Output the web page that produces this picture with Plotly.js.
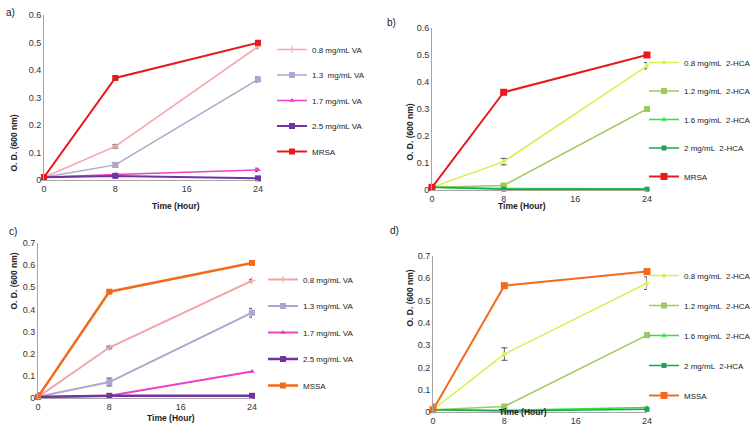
<!DOCTYPE html>
<html>
<head>
<meta charset="utf-8">
<script src="https://cdn.plot.ly/plotly-3.0.1.min.js"></script>
<style>html,body{margin:0;padding:0;background:#fff;overflow:hidden;}#chart{width:750px;height:430px;}</style>
</head>
<body>
<div id="chart"></div>
<script>
// ---- data ----
const hours = [0, 8, 24];
const xTickVals = [0, 8, 16, 24];

// panel a (MRSA, VA)
const aNames = ["0.8 mg/mL VA", "1.3  mg/mL VA", "1.7 mg/mL VA", "2.5 mg/mL VA", "MRSA"];
const aVA08 = [0.01, 0.122, 0.485];
const aVA13 = [0.01, 0.055, 0.366];
const aVA17 = [0.01, 0.020, 0.037];
const aVA25 = [0.01, 0.015, 0.006];
const aMRSA = [0.01, 0.371, 0.499];
const aErr08 = [0, 0.006, 0.006];
const aErr13 = [0, 0.008, 0.010];
const aErr17 = [0, 0.003, 0.006];
const aErr25 = [0, 0.003, 0.003];
const aErrMRSA = [0, 0.004, 0.008];

// panel b (MRSA, 2-HCA)
const bNames = ["0.8 mg/mL  2-HCA", "1.2 mg/mL  2-HCA", "1.6 mg/mL  2-HCA", "2 mg/mL  2-HCA", "MRSA"];
const bHCA08 = [0.01, 0.105, 0.460];
const bHCA12 = [0.01, 0.017, 0.300];
const bHCA16 = [0.01, 0.006, 0.005];
const bHCA2 = [0.01, 0.003, 0.003];
const bMRSA = [0.01, 0.362, 0.500];
const bErr08 = [0, 0.012, 0.012];
const bErr12 = [0, 0.003, 0.004];

// panel c (MSSA, VA)
const cNames = ["0.8 mg/mL VA", "1.3 mg/mL VA", "1.7 mg/mL VA", "2.5 mg/mL VA", "MSSA"];
const cVA08 = [0.005, 0.228, 0.530];
const cVA13 = [0.005, 0.072, 0.385];
const cVA17 = [0.005, 0.010, 0.120];
const cVA25 = [0.005, 0.010, 0.010];
const cMSSA = [0.005, 0.480, 0.610];
const cErr08 = [0, 0.006, 0.006];
const cErr13 = [0, 0.018, 0.020];
const cErrMSSA = [0.018, 0.004, 0.004];

// panel d (MSSA, 2-HCA)
const dNames = ["0.8 mg/mL  2-HCA", "1.2 mg/mL  2-HCA", "1.6 mg/mL  2-HCA", "2 mg/mL  2-HCA", "MSSA"];
const dHCA08 = [0.01, 0.260, 0.578];
const dHCA12 = [0.01, 0.025, 0.345];
const dHCA16 = [0.01, 0.008, 0.020];
const dHCA2 = [0.01, 0.004, 0.012];
const dMSSA = [0.01, 0.567, 0.630];
const dErr08 = [0, 0.028, 0.028];
const dErr12 = [0, 0.006, 0.006];
const dErrMSSA = [0.025, 0.006, 0.008];

// ---- styles ----
const C = {
  va08: "#f5a3a6", va13: "#b2a4cf", va17: "#ee40c8", va25: "#7232a0",
  mrsa: "#e8181c", mssa: "#f26a1c",
  h08: "#d6f04c", h12: "#9ccb5b", h16: "#2fe42f", h2: "#1fa35a"
};

function tr(y, name, color, sym, size, width, err, axis, legend) {
  const t = {
    x: hours, y: y, name: name, type: "scatter", mode: "lines+markers",
    line: {color: color, width: width},
    marker: {color: color, symbol: sym, size: size},
    xaxis: "x" + axis, yaxis: "y" + axis, legend: legend,
    legendgroup: name + axis, cliponaxis: false
  };
  if (err) t.error_y = {type: "data", array: err, visible: true, color: "#555", thickness: 1, width: 3};
  return t;
}

const data = [
  tr(aVA08, aNames[0], C.va08, "cross-thin-open", 5, 1.5, aErr08, "", "legend"),
  tr(aVA13, aNames[1], C.va13, "square", 6, 1.5, aErr13, "", "legend"),
  tr(aVA17, aNames[2], C.va17, "triangle-up", 5, 1.5, aErr17, "", "legend"),
  tr(aVA25, aNames[3], C.va25, "square", 6, 2, aErr25, "", "legend"),
  tr(aMRSA, aNames[4], C.mrsa, "square", 6, 2, aErrMRSA, "", "legend"),

  tr(bHCA08, bNames[0], C.h08, "diamond", 4, 1.5, bErr08, "2", "legend2"),
  tr(bHCA12, bNames[1], C.h12, "square", 6, 1.5, bErr12, "2", "legend2"),
  tr(bHCA16, bNames[2], C.h16, "triangle-up", 5, 1.5, null, "2", "legend2"),
  tr(bHCA2, bNames[3], C.h2, "square", 5, 1.5, null, "2", "legend2"),
  tr(bMRSA, bNames[4], C.mrsa, "square", 7, 2, null, "2", "legend2"),

  tr(cVA08, cNames[0], C.va08, "cross-thin-open", 5, 2, cErr08, "3", "legend3"),
  tr(cVA13, cNames[1], C.va13, "square", 6, 2, cErr13, "3", "legend3"),
  tr(cVA17, cNames[2], C.va17, "triangle-up", 5, 2, null, "3", "legend3"),
  tr(cVA25, cNames[3], C.va25, "square", 6, 2.5, null, "3", "legend3"),
  tr(cMSSA, cNames[4], C.mssa, "square", 6, 2.5, cErrMSSA, "3", "legend3"),

  tr(dHCA08, dNames[0], C.h08, "diamond", 4, 1.5, dErr08, "4", "legend4"),
  tr(dHCA12, dNames[1], C.h12, "square", 6, 1.5, dErr12, "4", "legend4"),
  tr(dHCA16, dNames[2], C.h16, "triangle-up", 5, 1.5, null, "4", "legend4"),
  tr(dHCA2, dNames[3], C.h2, "square", 5, 1.5, null, "4", "legend4"),
  tr(dMSSA, dNames[4], C.mssa, "square", 7, 2, dErrMSSA, "4", "legend4")
];

const FONT = "Liberation Sans, Arial, sans-serif";
function px(v) { return v / 750; }
function py(v) { return (430 - v) / 430; }

function xax(x0, x1, anchor) {
  return {domain: [px(x0), px(x1)], range: [0, 24], tickvals: xTickVals, showgrid: false,
    zeroline: false, showline: true, linecolor: "#a6a6a6", linewidth: 1, ticks: "",
    tickfont: {size: 9, color: "#333"}, anchor: anchor, fixedrange: true, automargin: false};
}
function yax(y0, y1, top, anchor) {
  return {domain: [py(y0), py(y1)], range: [0, top], dtick: 0.1, showgrid: false,
    zeroline: false, showline: true, linecolor: "#a6a6a6", linewidth: 1, ticks: "",
    tickfont: {size: 9, color: "#333"}, anchor: anchor, fixedrange: true, automargin: false};
}
function leg(xp, ytop, gap) {
  return {x: px(xp), y: py(ytop), xanchor: "left", yanchor: "top", xref: "paper", yref: "paper",
    font: {size: 8, color: "#222", family: FONT}, tracegroupgap: gap, bgcolor: "rgba(0,0,0,0)",
    itemwidth: 30};
}
function ann(x, y, text, opts) {
  return Object.assign({x: px(x), y: py(y), xref: "paper", yref: "paper", text: text,
    showarrow: false, font: {size: 9, color: "#222", family: FONT}}, opts || {});
}
const tf = {size: 8.5, color: "#222", family: FONT};
const lf = {size: 10, color: "#222", family: FONT};

const layout = {
  width: 750, height: 430, margin: {l: 0, r: 0, t: 0, b: 0, autoexpand: false},
  paper_bgcolor: "#fff", plot_bgcolor: "#fff",
  font: {family: FONT, color: "#333"},
  xaxis: xax(44, 258, "y"), yaxis: yax(180, 15, 0.6, "x"),
  xaxis2: xax(432, 647, "y2"), yaxis2: yax(190, 28, 0.6, "x2"),
  xaxis3: xax(38, 252, "y3"), yaxis3: yax(398, 243, 0.7, "x3"),
  xaxis4: xax(433, 647, "y4"), yaxis4: yax(412, 256, 0.7, "x4"),
  legend: leg(272, 35, 6.5),
  legend2: leg(644, 48, 9.5),
  legend3: leg(263, 265, 7.5),
  legend4: leg(644, 261, 11),
  annotations: [
    ann(4, 5, "a)", {font: lf}),
    ann(391, 15, "b)", {font: lf}),
    ann(7, 232, "c)", {font: lf}),
    ann(395, 230, "d)", {font: lf}),
    ann(150, 206, "<b>Time (Hour)</b>", {font: tf}),
    ann(548, 206, "<b>Time (Hour)</b>", {font: tf}),
    ann(145, 425, "<b>Time (Hour)</b>", {font: tf}),
    ann(549, 419, "<b>Time (Hour)</b>", {font: tf}),
    ann(6, 113, "<b>O. D. (600 nm)</b>", {textangle: -90, font: tf}),
    ann(409, 102, "<b>O. D. (600 nm)</b>", {textangle: -90, font: tf}),
    ann(6, 312, "<b>O. D. (600 nm)</b>", {textangle: -90, font: tf}),
    ann(409, 329, "<b>O. D. (600 nm)</b>", {textangle: -90, font: tf})
  ]
};

Plotly.newPlot("chart", data, layout, {displayModeBar: false, staticPlot: true});
</script>
</body>
</html>
